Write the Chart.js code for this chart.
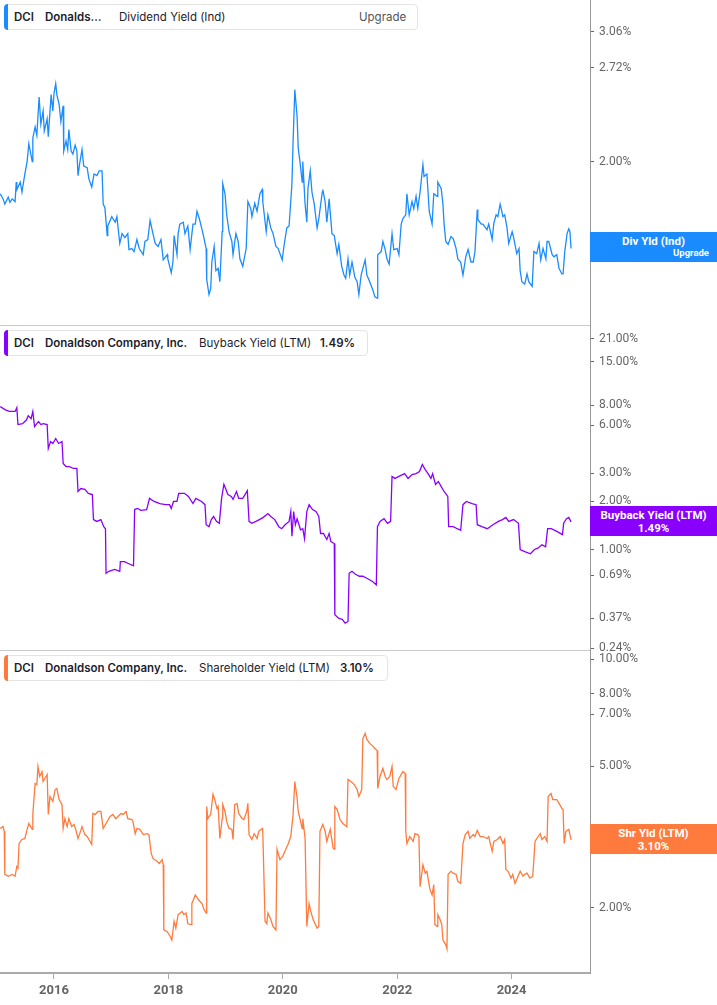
<!DOCTYPE html>
<html lang="en">
<head>
<meta charset="UTF-8">
<title>DCI - Dividend, Buyback and Shareholder Yield</title>
<script src="https://cdn.jsdelivr.net/npm/chart.js"></script>
<style>
  body { margin: 0; background: #fff; width: 717px; height: 1005px; position: relative; overflow: hidden; font-family: Inter, "Noto Sans", sans-serif; }
  canvas { position: absolute; left: 0; }
  .sep { position: absolute; left: 0; width: 590px; height: 1px; background: #c9c9c9; z-index: 2; }
  .legend { position: absolute; left: 4px; height: 26px; background: #fff; border: 1px solid #e4e4e4; border-radius: 4px; box-sizing: border-box; font-size: 11.5px; color: #1d1d2b; z-index: 3; }
  .legend .bar { position: absolute; left: -1px; top: -1px; bottom: -1px; width: 4px; border-radius: 4px 0 0 4px; }
  .legend span { position: absolute; top: 5px; white-space: nowrap; }
  .b { font-weight: 600; }
  .grey { color: #555; }
  .tag { position: absolute; left: 590px; width: 127px; height: 30px; color: #fff; font-family: Roboto, sans-serif; font-weight: 700; z-index: 3; }
  .tag .l1 { position: absolute; left: 0; right: 0; top: 2px; text-align: center; font-size: 11.5px; }
  .tag .l2 { position: absolute; left: 0; right: 0; top: 15px; text-align: center; font-size: 11.5px; }
  .tag .up { position: absolute; right: 8px; top: 15px; font-size: 9.5px; }
</style>
</head>
<body>
<canvas id="divChart" width="717" height="325" style="top:0"></canvas>
<canvas id="shareholderChart" width="717" height="355" style="top:650px"></canvas>
<canvas id="buybackChart" width="717" height="337" style="top:325px"></canvas>

<div class="sep" style="top:325px"></div>
<div class="sep" style="top:650px"></div>

<div class="legend" style="top:4px; width:414px">
  <div class="bar" style="background:#1a8cff"></div>
  <span class="b" style="left:9px">DCI</span>
  <span class="b" style="left:40px">Donalds…</span>
  <span style="left:114px">Dividend Yield (Ind)</span>
  <span class="grey" style="left:354px">Upgrade</span>
</div>
<div class="legend" style="top:330px; width:364px">
  <div class="bar" style="background:#8a00ff"></div>
  <span class="b" style="left:9px">DCI</span>
  <span class="b" style="left:40px">Donaldson Company, Inc.</span>
  <span style="left:194px">Buyback Yield (LTM)</span>
  <span class="b" style="left:315px">1.49%</span>
</div>
<div class="legend" style="top:655px; width:384px">
  <div class="bar" style="background:#ff7a3d"></div>
  <span class="b" style="left:9px">DCI</span>
  <span class="b" style="left:40px">Donaldson Company, Inc.</span>
  <span style="left:194px">Shareholder Yield (LTM)</span>
  <span class="b" style="left:335px">3.10%</span>
</div>

<div class="tag" style="top:232px; background:#1a8cff">
  <div class="l1">Div Yld (Ind)</div>
  <div class="up">Upgrade</div>
</div>
<div class="tag" style="top:506px; background:#8a00ff">
  <div class="l1">Buyback Yield (LTM)</div>
  <div class="l2">1.49%</div>
</div>
<div class="tag" style="top:824px; background:#ff7a3d">
  <div class="l1">Shr Yld (LTM)</div>
  <div class="l2">3.10%</div>
</div>

<script>
// [year, yield %]
const divYield = [
  [2015.06,1.80],[2015.11,1.77],[2015.14,1.74],[2015.20,1.78],[2015.23,1.75],[2015.27,1.77],[2015.32,1.755],[2015.34,1.87],
  [2015.35,1.825],[2015.41,1.87],[2015.44,1.81],[2015.49,1.92],[2015.53,2.00],[2015.56,2.12],[2015.62,2.00],[2015.63,2.16],
  [2015.67,2.24],[2015.70,2.18],[2015.74,2.47],[2015.77,2.26],[2015.81,2.36],[2015.83,2.21],[2015.88,2.30],[2015.90,2.17],
  [2015.95,2.49],[2015.98,2.36],[2016.00,2.50],[2016.03,2.58],[2016.05,2.49],[2016.09,2.41],[2016.12,2.28],[2016.16,2.40],
  [2016.17,2.07],[2016.21,2.14],[2016.24,2.08],[2016.26,2.22],[2016.30,2.07],[2016.33,2.05],[2016.37,2.11],[2016.40,2.07],
  [2016.42,1.91],[2016.45,1.99],[2016.49,2.08],[2016.52,1.97],[2016.58,1.96],[2016.61,1.89],[2016.66,1.84],[2016.70,1.92],
  [2016.75,1.91],[2016.79,1.94],[2016.84,1.94],[2016.86,1.74],[2016.89,1.72],[2016.93,1.57],[2016.94,1.62],[2017.01,1.67],
  [2017.07,1.64],[2017.10,1.67],[2017.15,1.53],[2017.19,1.58],[2017.24,1.56],[2017.29,1.58],[2017.31,1.50],[2017.36,1.505],
  [2017.40,1.49],[2017.45,1.55],[2017.49,1.505],[2017.56,1.475],[2017.59,1.54],[2017.64,1.55],[2017.68,1.65],[2017.73,1.58],
  [2017.77,1.53],[2017.82,1.515],[2017.87,1.55],[2017.91,1.45],[2017.98,1.475],[2017.99,1.455],[2018.05,1.39],[2018.08,1.44],
  [2018.10,1.57],[2018.15,1.475],[2018.17,1.58],[2018.20,1.63],[2018.26,1.64],[2018.29,1.58],[2018.34,1.62],[2018.38,1.50],
  [2018.43,1.63],[2018.47,1.63],[2018.50,1.70],[2018.54,1.66],[2018.59,1.60],[2018.62,1.56],[2018.66,1.505],[2018.67,1.36],
  [2018.71,1.295],[2018.74,1.32],[2018.76,1.44],[2018.80,1.515],[2018.83,1.40],[2018.87,1.41],[2018.90,1.35],[2018.94,1.59],
  [2018.95,1.86],[2018.99,1.80],[2019.02,1.68],[2019.06,1.59],[2019.11,1.54],[2019.13,1.475],[2019.18,1.58],[2019.22,1.54],
  [2019.25,1.455],[2019.30,1.42],[2019.36,1.505],[2019.39,1.755],[2019.44,1.715],[2019.46,1.67],[2019.51,1.745],[2019.55,1.70],
  [2019.60,1.80],[2019.64,1.825],[2019.65,1.755],[2019.71,1.59],[2019.74,1.68],[2019.79,1.61],[2019.83,1.58],[2019.88,1.515],
  [2019.92,1.505],[2019.99,1.45],[2020.02,1.515],[2020.07,1.61],[2020.11,1.62],[2020.16,1.86],[2020.18,2.135],[2020.21,2.53],
  [2020.25,2.32],[2020.27,2.09],[2020.30,2.00],[2020.34,1.87],[2020.35,2.00],[2020.39,1.74],[2020.42,1.64],[2020.44,1.83],
  [2020.48,1.94],[2020.51,1.81],[2020.55,1.74],[2020.60,1.61],[2020.63,1.66],[2020.69,1.81],[2020.70,1.825],[2020.74,1.755],
  [2020.77,1.64],[2020.81,1.77],[2020.86,1.58],[2020.90,1.57],[2020.95,1.48],[2020.98,1.525],[2021.03,1.42],[2021.07,1.38],
  [2021.10,1.365],[2021.14,1.455],[2021.17,1.38],[2021.21,1.44],[2021.26,1.37],[2021.30,1.35],[2021.33,1.295],[2021.37,1.38],
  [2021.40,1.41],[2021.44,1.45],[2021.47,1.38],[2021.52,1.35],[2021.58,1.31],[2021.61,1.285],[2021.65,1.28],[2021.66,1.475],
  [2021.72,1.49],[2021.75,1.54],[2021.79,1.50],[2021.82,1.455],[2021.86,1.43],[2021.91,1.58],[2021.94,1.50],[2022.00,1.505],
  [2022.03,1.475],[2022.07,1.63],[2022.10,1.66],[2022.15,1.68],[2022.17,1.80],[2022.21,1.68],[2022.26,1.755],[2022.29,1.715],
  [2022.33,1.785],[2022.36,1.715],[2022.40,1.81],[2022.45,1.98],[2022.47,1.905],[2022.52,1.92],[2022.56,1.70],[2022.61,1.63],
  [2022.64,1.80],[2022.70,1.785],[2022.71,1.87],[2022.77,1.83],[2022.80,1.74],[2022.82,1.63],[2022.85,1.54],[2022.89,1.525],
  [2022.94,1.565],[2022.98,1.555],[2023.03,1.505],[2023.06,1.455],[2023.11,1.44],[2023.15,1.38],[2023.20,1.465],[2023.24,1.50],
  [2023.29,1.44],[2023.33,1.44],[2023.36,1.49],[2023.40,1.71],[2023.41,1.655],[2023.47,1.63],[2023.50,1.63],[2023.57,1.60],
  [2023.60,1.63],[2023.66,1.55],[2023.69,1.635],[2023.73,1.68],[2023.76,1.67],[2023.80,1.74],[2023.85,1.67],[2023.88,1.68],
  [2023.92,1.61],[2023.95,1.53],[2024.01,1.59],[2024.04,1.555],[2024.09,1.48],[2024.13,1.505],[2024.15,1.40],[2024.18,1.35],
  [2024.23,1.34],[2024.27,1.385],[2024.30,1.35],[2024.36,1.33],[2024.39,1.49],[2024.44,1.48],[2024.48,1.53],[2024.51,1.45],
  [2024.55,1.505],[2024.60,1.455],[2024.62,1.54],[2024.65,1.54],[2024.71,1.475],[2024.74,1.465],[2024.79,1.475],[2024.83,1.41],
  [2024.88,1.385],[2024.90,1.385],[2024.93,1.49],[2024.97,1.58],[2025.00,1.605],[2025.02,1.59],[2025.04,1.505]
];

const buybackYield = [
  [2015.06,7.87],[2015.15,7.5],[2015.22,7.33],[2015.32,7.33],[2015.35,7.75],[2015.37,6.07],[2015.45,6.15],[2015.52,6.5],
  [2015.55,6.9],[2015.60,6.6],[2015.63,7.33],[2015.66,5.90],[2015.70,6.15],[2015.73,6.34],[2015.77,6.07],[2015.81,6.15],
  [2015.88,6.07],[2015.90,4.30],[2015.94,4.75],[2015.98,4.62],[2016.03,4.96],[2016.08,4.62],[2016.14,4.75],[2016.16,3.46],
  [2016.21,3.31],[2016.27,3.31],[2016.34,3.22],[2016.40,3.22],[2016.42,2.31],[2016.47,2.41],[2016.54,2.38],[2016.60,2.25],
  [2016.67,2.21],[2016.69,1.54],[2016.75,1.50],[2016.82,1.54],[2016.87,1.39],[2016.90,1.35],[2016.91,0.71],[2016.96,0.73],
  [2017.06,0.75],[2017.15,0.73],[2017.16,0.84],[2017.23,0.84],[2017.29,0.82],[2017.39,0.79],[2017.41,1.78],[2017.46,1.81],
  [2017.52,1.76],[2017.62,1.78],[2017.67,2.09],[2017.75,2.00],[2017.85,1.94],[2017.95,1.91],[2018.02,1.91],[2018.05,1.81],
  [2018.09,2.00],[2018.15,2.00],[2018.18,2.25],[2018.23,2.25],[2018.28,2.25],[2018.35,2.15],[2018.43,1.94],[2018.48,2.09],
  [2018.58,2.00],[2018.64,1.91],[2018.66,1.43],[2018.71,1.39],[2018.75,1.54],[2018.79,1.61],[2018.84,1.50],[2018.89,1.46],
  [2018.93,2.09],[2018.97,2.56],[2019.00,2.41],[2019.04,2.21],[2019.10,2.15],[2019.13,2.06],[2019.19,2.31],[2019.23,2.09],
  [2019.30,2.09],[2019.34,2.21],[2019.38,2.34],[2019.41,1.50],[2019.46,1.46],[2019.53,1.50],[2019.59,1.54],[2019.66,1.59],
  [2019.74,1.68],[2019.79,1.61],[2019.86,1.54],[2019.93,1.39],[2019.98,1.35],[2020.04,1.43],[2020.11,1.50],[2020.14,1.73],
  [2020.16,1.21],[2020.19,1.73],[2020.22,1.43],[2020.25,1.56],[2020.31,1.33],[2020.35,1.35],[2020.38,1.17],[2020.42,1.73],
  [2020.46,1.91],[2020.52,1.78],[2020.58,1.73],[2020.63,1.61],[2020.66,1.26],[2020.71,1.26],[2020.77,1.155],[2020.81,1.26],
  [2020.84,1.12],[2020.90,1.09],[2020.91,0.39],[2020.98,0.37],[2021.04,0.365],[2021.09,0.345],[2021.14,0.354],[2021.16,0.71],
  [2021.21,0.73],[2021.27,0.70],[2021.34,0.68],[2021.40,0.68],[2021.47,0.66],[2021.57,0.63],[2021.635,0.60],[2021.655,1.39],
  [2021.70,1.50],[2021.77,1.56],[2021.83,1.46],[2021.885,1.50],[2021.91,2.87],[2021.96,2.79],[2022.03,2.87],[2022.13,2.99],
  [2022.19,2.79],[2022.26,2.95],[2022.33,2.99],[2022.39,3.08],[2022.44,3.41],[2022.49,3.17],[2022.54,2.99],[2022.59,2.79],
  [2022.62,2.99],[2022.67,2.56],[2022.72,2.67],[2022.77,2.48],[2022.82,2.31],[2022.885,2.15],[2022.90,1.39],[2022.98,1.39],
  [2023.05,1.35],[2023.11,1.32],[2023.15,1.91],[2023.21,2.00],[2023.31,1.94],[2023.38,1.91],[2023.40,1.43],[2023.48,1.39],
  [2023.575,1.35],[2023.675,1.43],[2023.77,1.50],[2023.84,1.54],[2023.90,1.59],[2023.95,1.50],[2024.035,1.54],[2024.12,1.46],
  [2024.15,1.00],[2024.23,0.97],[2024.33,0.94],[2024.40,1.00],[2024.46,1.02],[2024.53,1.07],[2024.595,1.04],[2024.63,1.35],
  [2024.695,1.35],[2024.79,1.30],[2024.89,1.24],[2024.91,1.46],[2024.96,1.56],[2025.00,1.59],[2025.04,1.49]
];

const shareholderYield = [
  [2015.06,3.34],[2015.11,3.38],[2015.13,3.28],[2015.14,2.48],[2015.20,2.45],[2015.27,2.48],[2015.32,2.45],[2015.35,2.61],
  [2015.37,2.58],[2015.39,3.03],[2015.44,3.11],[2015.49,3.13],[2015.53,3.32],[2015.56,3.45],[2015.62,3.32],[2015.63,3.66],
  [2015.67,4.47],[2015.70,4.44],[2015.72,4.99],[2015.75,4.68],[2015.79,4.83],[2015.81,4.53],[2015.88,4.74],[2015.90,3.66],
  [2015.93,4.11],[2015.98,3.98],[2016.02,4.30],[2016.05,4.33],[2016.09,4.03],[2016.14,3.90],[2016.16,3.34],[2016.19,3.56],
  [2016.23,3.38],[2016.26,3.56],[2016.31,3.38],[2016.35,3.43],[2016.38,3.32],[2016.42,3.13],[2016.45,3.23],[2016.49,3.38],
  [2016.54,3.21],[2016.58,3.17],[2016.63,3.07],[2016.66,3.01],[2016.68,3.68],[2016.72,3.66],[2016.77,3.73],[2016.82,3.73],
  [2016.86,3.34],[2016.91,3.45],[2016.98,3.61],[2017.03,3.66],[2017.08,3.56],[2017.12,3.61],[2017.17,3.68],[2017.21,3.66],
  [2017.26,3.73],[2017.29,3.56],[2017.36,3.54],[2017.38,3.49],[2017.42,3.23],[2017.45,3.34],[2017.50,3.32],[2017.56,3.21],
  [2017.63,3.23],[2017.66,3.21],[2017.70,2.84],[2017.73,2.75],[2017.80,2.70],[2017.84,2.66],[2017.89,2.73],[2017.91,2.64],
  [2017.92,1.73],[2017.98,1.71],[2018.03,1.66],[2018.06,1.62],[2018.10,1.83],[2018.13,1.75],[2018.17,1.91],[2018.24,1.95],
  [2018.27,1.91],[2018.31,1.93],[2018.34,1.80],[2018.40,1.79],[2018.41,2.05],[2018.47,2.17],[2018.52,2.11],[2018.59,2.05],
  [2018.62,1.98],[2018.66,1.93],[2018.67,3.85],[2018.69,3.56],[2018.74,3.66],[2018.78,4.17],[2018.81,4.03],[2018.85,3.80],
  [2018.87,3.85],[2018.90,3.13],[2018.94,3.56],[2018.95,3.90],[2018.99,3.73],[2019.02,3.49],[2019.06,3.34],[2019.11,3.32],
  [2019.13,3.11],[2019.16,3.90],[2019.20,3.93],[2019.23,3.68],[2019.29,3.56],[2019.32,3.54],[2019.37,3.73],[2019.39,3.93],
  [2019.41,3.21],[2019.46,3.11],[2019.50,3.23],[2019.55,3.13],[2019.58,3.28],[2019.64,3.34],[2019.65,3.28],[2019.69,1.83],
  [2019.72,1.80],[2019.74,1.93],[2019.79,1.85],[2019.83,1.77],[2019.88,1.73],[2019.90,2.92],[2019.95,2.73],[2020.00,2.79],
  [2020.06,2.94],[2020.09,3.01],[2020.14,3.17],[2020.18,3.66],[2020.21,4.53],[2020.25,4.07],[2020.27,3.73],[2020.30,3.56],
  [2020.34,3.34],[2020.35,3.56],[2020.39,3.13],[2020.42,1.77],[2020.46,2.05],[2020.49,1.95],[2020.53,1.85],[2020.60,1.75],
  [2020.63,1.77],[2020.65,3.28],[2020.70,3.43],[2020.74,3.28],[2020.77,3.07],[2020.83,3.32],[2020.88,2.94],[2020.90,2.92],
  [2020.91,3.85],[2020.95,3.78],[2021.00,3.54],[2021.05,3.45],[2021.12,3.38],[2021.14,4.59],[2021.19,4.53],[2021.25,4.44],
  [2021.30,4.30],[2021.33,4.11],[2021.38,4.30],[2021.40,5.98],[2021.44,6.19],[2021.47,5.95],[2021.52,5.80],[2021.58,5.69],
  [2021.61,5.61],[2021.65,5.54],[2021.66,4.33],[2021.70,4.68],[2021.75,4.93],[2021.79,4.68],[2021.82,4.59],[2021.87,4.68],
  [2021.91,4.99],[2021.93,4.39],[2021.98,4.30],[2022.03,4.62],[2022.10,4.83],[2022.14,4.77],[2022.15,3.28],[2022.17,3.03],
  [2022.22,3.17],[2022.28,3.07],[2022.31,3.23],[2022.36,3.21],[2022.38,3.17],[2022.40,2.29],[2022.45,2.64],[2022.49,2.50],
  [2022.52,2.53],[2022.57,2.26],[2022.61,2.17],[2022.64,2.32],[2022.66,1.79],[2022.70,1.77],[2022.71,1.91],[2022.75,1.85],
  [2022.78,1.79],[2022.80,1.62],[2022.85,1.57],[2022.87,1.53],[2022.89,2.48],[2022.94,2.53],[2022.98,2.50],[2023.03,2.48],
  [2023.06,2.37],[2023.11,2.34],[2023.15,3.03],[2023.19,3.21],[2023.24,3.28],[2023.27,3.13],[2023.33,3.21],[2023.36,3.17],
  [2023.40,3.30],[2023.45,3.17],[2023.50,3.17],[2023.57,3.13],[2023.60,3.17],[2023.66,2.88],[2023.69,3.07],[2023.75,3.11],
  [2023.80,3.17],[2023.85,3.03],[2023.88,3.11],[2023.90,2.56],[2023.94,2.53],[2023.99,2.42],[2024.02,2.48],[2024.06,2.34],
  [2024.09,2.40],[2024.15,2.53],[2024.20,2.45],[2024.23,2.48],[2024.27,2.50],[2024.32,2.42],[2024.37,2.45],[2024.41,3.07],
  [2024.44,3.13],[2024.50,3.23],[2024.53,3.11],[2024.58,3.17],[2024.62,3.07],[2024.64,4.11],[2024.69,4.19],[2024.72,4.03],
  [2024.79,4.03],[2024.83,3.93],[2024.88,3.80],[2024.90,3.78],[2024.92,3.03],[2024.95,3.28],[2025.00,3.32],[2025.04,3.10]
];

// tick labels shown on the right axes
const divTicks = [3.06, 2.72, 2.00];
const buybackTicks = [21, 15, 8, 6, 3, 2, 1, 0.69, 0.37, 0.24];
const shareholderTicks = [10, 8, 7, 5, 3, 2];
const yearTicks = [2016, 2018, 2020, 2022, 2024];

const xMin = 2015.056, xMax = 2025.371;

function makePanel(id, series, color, ticks, yMin, yMax, showX, bottomPad) {
  const xAxis = {
    type: 'linear',
    min: xMin,
    max: xMax,
    display: showX
  };
  if (showX) {
    Object.assign(xAxis, {
      afterBuildTicks: s => { s.ticks = yearTicks.map(v => ({ value: v })); },
      afterFit: s => { s.height = 32; s.paddingLeft = 0; s.paddingRight = 0; },
      grid: { drawOnChartArea: false, tickLength: 6, tickColor: '#aaa' },
      border: { color: '#aaa', width: 2 },
      ticks: {
        autoSkip: false,
        maxRotation: 0,
        padding: 4,
        color: '#666',
        font: { family: 'Roboto', size: 13, weight: 'bold' },
        callback: v => String(v)
      }
    });
  }

  new Chart(document.getElementById(id), {
    type: 'line',
    data: {
      datasets: [{
        data: series.map(p => ({ x: p[0], y: p[1] })),
        borderColor: color,
        borderWidth: 1.3,
        pointRadius: 0,
        tension: 0
      }]
    },
    options: {
      responsive: false,
      animation: false,
      events: [],
      layout: { padding: { top: 0, left: 0, right: 0, bottom: bottomPad || 0 } },
      plugins: { legend: { display: false }, tooltip: { enabled: false } },
      scales: {
        x: xAxis,
        y: {
          type: 'logarithmic',
          position: 'right',
          min: yMin,
          max: yMax,
          afterBuildTicks: s => { s.ticks = ticks.map(v => ({ value: v })); },
          afterFit: s => { s.width = 127; s.paddingTop = 0; s.paddingBottom = 0; },
          grid: { drawOnChartArea: false, tickLength: 4, tickColor: '#666' },
          border: { color: '#999', width: 1 },
          ticks: {
            autoSkip: false,
            padding: 5,
            color: '#666',
            font: { family: 'Roboto', size: 12 },
            callback: v => Number(v).toFixed(2) + '%'
          }
        }
      }
    }
  });
}

makePanel('divChart', divYield, '#1a8cff', divTicks, 1.172, 3.392, false);
makePanel('buybackChart', buybackYield, '#8a00ff', buybackTicks, 0.2345, 25.53, false, 12);
makePanel('shareholderChart', shareholderYield, '#ff7a3d', shareholderTicks, 1.308, 10.63, true);
</script>
</body>
</html>
